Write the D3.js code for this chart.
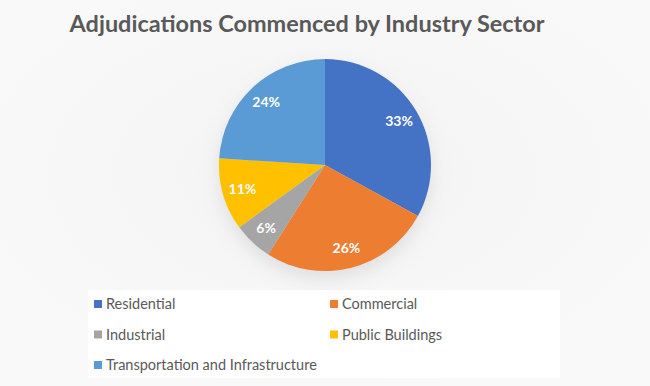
<!DOCTYPE html>
<html><head><meta charset="utf-8">
<script src="https://cdn.jsdelivr.net/npm/d3@7/dist/d3.min.js"></script>
<style>html,body{margin:0;padding:0;background:#f7f7f7;}svg{display:block;}</style>
</head><body>
<svg id="chart" width="650" height="386"></svg>
<script>
const categories = ["Residential", "Commercial", "Industrial", "Public Buildings", "Transportation and Infrastructure"];
const values = [33, 26, 6, 11, 24];
const colors = ["#4472C4", "#ED7D31", "#A5A5A5", "#FFC000", "#5B9BD5"];
const title = "Adjudications Commenced by Industry Sector";

const svg = d3.select("#chart");
const W = 650, H = 386;
const defs = svg.append("defs");
const rg = defs.append("radialGradient").attr("id", "bg").attr("cx", "50%").attr("cy", "45%").attr("r", "60%");
rg.append("stop").attr("offset", "0%").attr("stop-color", "#f3f3f3");
rg.append("stop").attr("offset", "100%").attr("stop-color", "#f9f9f9");
svg.append("rect").attr("width", W).attr("height", H).attr("fill", "url(#bg)");

const f = defs.append("filter").attr("id", "sh").attr("x", "-30%").attr("y", "-30%").attr("width", "160%").attr("height", "160%");
f.append("feGaussianBlur").attr("stdDeviation", 9);

// Title
const t = svg.append("text").attr("x", 307).attr("y", 32).attr("text-anchor", "middle")
  .attr("font-family", "Lato, 'Open Sans', sans-serif").attr("font-weight", "bold")
  .attr("font-size", 24).attr("fill", "#595959").text(title);
const tw = t.node().getComputedTextLength();
t.attr("font-size", 24 * 475 / tw);

const cx = 325, cy = 165, r = 106;
const g = svg.append("g").attr("transform", `translate(${cx},${cy})`);
g.append("circle").attr("r", r).attr("cy", 8).attr("fill", "#d0d0d0").attr("opacity", 0.6).attr("filter", "url(#sh)");

const pie = d3.pie().sort(null).value(d => d)(values);
const arc = d3.arc().innerRadius(0).outerRadius(r);
g.selectAll("path.slice").data(pie).enter().append("path").attr("class", "slice")
  .attr("d", arc).attr("fill", (d, i) => colors[i]);

const labelArc = d3.arc().innerRadius(86).outerRadius(86);
g.selectAll("text.lbl").data(pie).enter().append("text").attr("class", "lbl")
  .attr("transform", d => `translate(${labelArc.centroid(d)})`)
  .attr("text-anchor", "middle").attr("dy", "0.35em")
  .attr("font-family", "Lato, 'Open Sans', sans-serif").attr("font-weight", "bold")
  .attr("font-size", 14).attr("fill", "#ffffff")
  .text(d => d.data + "%");

// Legend
svg.append("rect").attr("x", 88).attr("y", 290).attr("width", 472).attr("height", 88).attr("fill", "#ffffff");
const lg = svg.append("g");
categories.forEach((c, i) => {
  const col = i % 2, row = Math.floor(i / 2);
  const x = 94 + col * 236, y = 304 + row * 30.5;
  lg.append("rect").attr("x", x).attr("y", y - 4).attr("width", 8).attr("height", 8).attr("fill", colors[i]);
  lg.append("text").attr("x", x + 12).attr("y", y).attr("dy", "0.35em")
    .attr("font-family", "Lato, 'Open Sans', sans-serif").attr("font-size", 14.5)
    .attr("fill", "#595959").text(c);
});
</script>
</body></html>
